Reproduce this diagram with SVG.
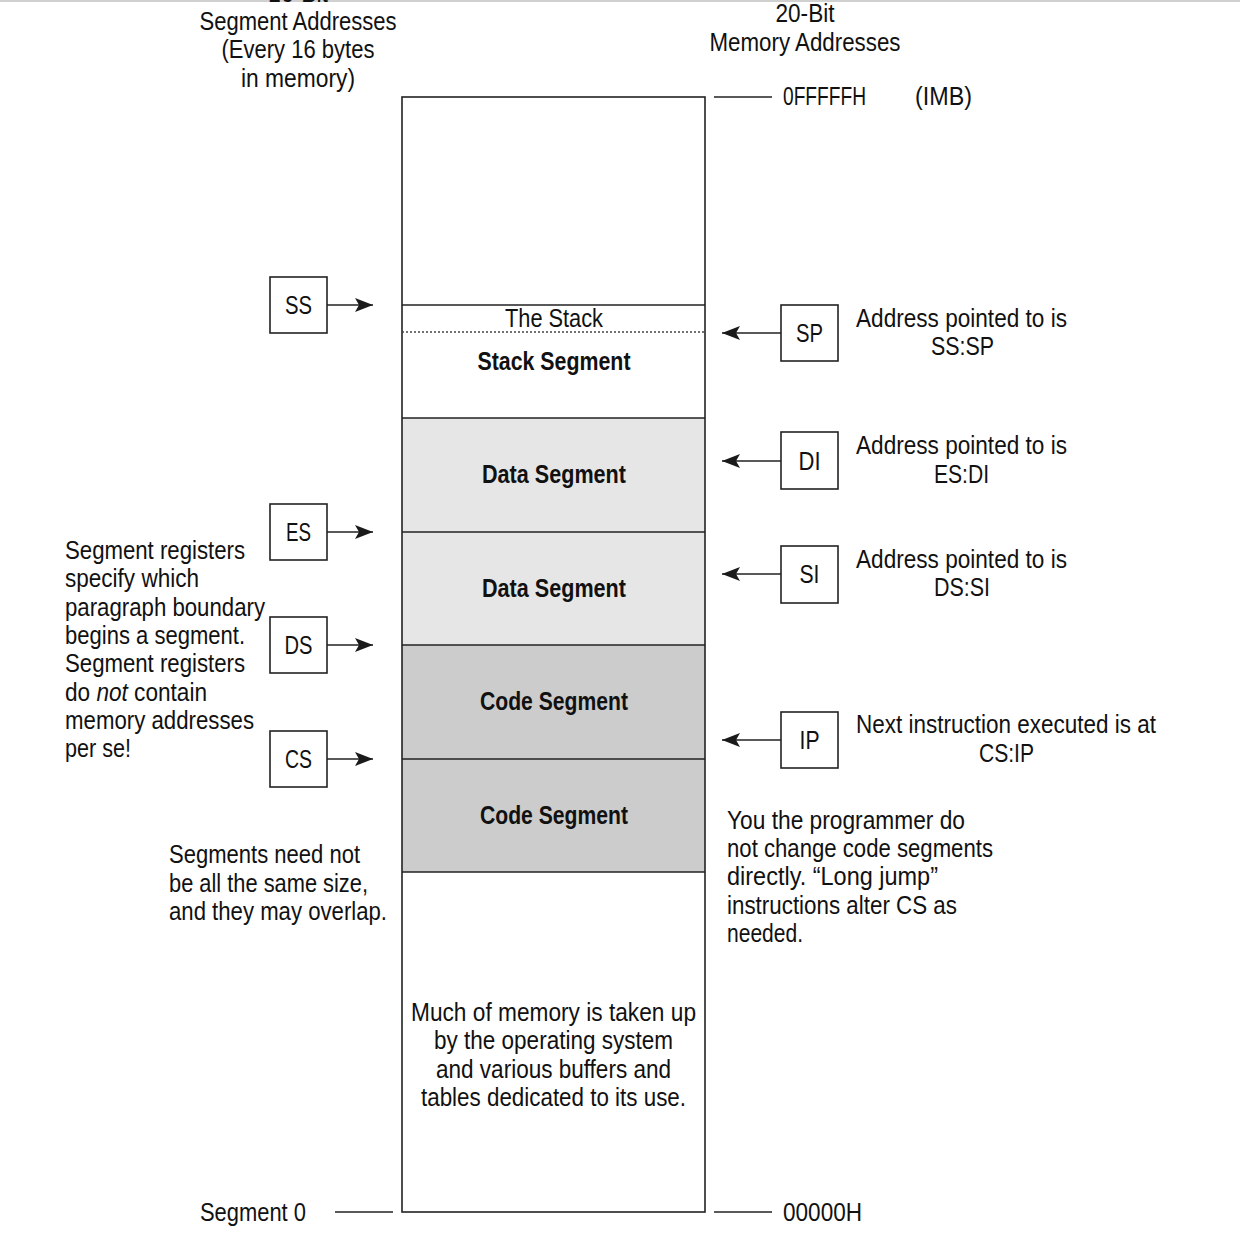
<svg xmlns="http://www.w3.org/2000/svg" width="1240" height="1236" viewBox="0 0 1240 1236">
<defs>
<style>
text{font-family:"Liberation Sans",Arial,sans-serif;font-size:25px;fill:#111}
.c{text-anchor:middle}
.b{font-weight:bold}
.box{fill:#fff;stroke:#222;stroke-width:1.6}
.ln{stroke:#222;stroke-width:1.6;fill:none}
</style>
<marker id="ah" viewBox="0 0 18 14" refX="18" refY="7" markerWidth="18" markerHeight="14" markerUnits="userSpaceOnUse" orient="auto">
<path d="M0,0 L18,7 L0,14 L4,7 Z" fill="#1a1a1a"/>
</marker>
</defs>
<rect x="0" y="0" width="1240" height="1236" fill="#fff"/>
<line x1="0" y1="1" x2="1240" y2="1" stroke="#d0d0d0" stroke-width="2"/>

<g id="headers">
<text class="c" x="298" y="2" textLength="60" lengthAdjust="spacingAndGlyphs">16-Bit</text>
<text class="c" x="298" y="30" textLength="197" lengthAdjust="spacingAndGlyphs">Segment Addresses</text>
<text class="c" x="298" y="58" textLength="153" lengthAdjust="spacingAndGlyphs">(Every 16 bytes</text>
<text class="c" x="298" y="87" textLength="114" lengthAdjust="spacingAndGlyphs">in memory)</text>
<text class="c" x="805" y="22" textLength="59" lengthAdjust="spacingAndGlyphs">20-Bit</text>
<text class="c" x="805" y="51" textLength="191" lengthAdjust="spacingAndGlyphs">Memory Addresses</text>
<text x="783" y="105" textLength="83" lengthAdjust="spacingAndGlyphs">0FFFFFH</text>
<text x="915" y="105" textLength="57" lengthAdjust="spacingAndGlyphs">(IMB)</text>
<text x="783" y="1221" textLength="79" lengthAdjust="spacingAndGlyphs">00000H</text>
<text x="200" y="1221" textLength="106" lengthAdjust="spacingAndGlyphs">Segment 0</text>
</g>

<g id="memory">
<rect x="402" y="418" width="303" height="227" fill="#e6e6e6"/>
<rect x="402" y="645" width="303" height="227" fill="#cccccc"/>
<rect x="402" y="97" width="303" height="1115" class="ln"/>
<line class="ln" x1="402" y1="305" x2="705" y2="305"/>
<line x1="402" y1="332" x2="705" y2="332" stroke="#444" stroke-width="1.5" stroke-dasharray="2,2"/>
<line class="ln" x1="402" y1="418" x2="705" y2="418"/>
<line class="ln" x1="402" y1="532" x2="705" y2="532"/>
<line class="ln" x1="402" y1="645" x2="705" y2="645"/>
<line class="ln" x1="402" y1="759" x2="705" y2="759"/>
<line class="ln" x1="402" y1="872" x2="705" y2="872"/>
<text class="c" x="554" y="327" textLength="98" lengthAdjust="spacingAndGlyphs">The Stack</text>
<text class="c b" x="554" y="370" textLength="153" lengthAdjust="spacingAndGlyphs">Stack Segment</text>
<text class="c b" x="554" y="483" textLength="144" lengthAdjust="spacingAndGlyphs">Data Segment</text>
<text class="c b" x="554" y="597" textLength="144" lengthAdjust="spacingAndGlyphs">Data Segment</text>
<text class="c b" x="554" y="710" textLength="148" lengthAdjust="spacingAndGlyphs">Code Segment</text>
<text class="c b" x="554" y="824" textLength="148" lengthAdjust="spacingAndGlyphs">Code Segment</text>
<text class="c" x="553.5" y="1021" textLength="285" lengthAdjust="spacingAndGlyphs">Much of memory is taken up</text>
<text class="c" x="553.5" y="1049" textLength="239" lengthAdjust="spacingAndGlyphs">by the operating system</text>
<text class="c" x="553.5" y="1078" textLength="235" lengthAdjust="spacingAndGlyphs">and various buffers and</text>
<text class="c" x="553.5" y="1106" textLength="265" lengthAdjust="spacingAndGlyphs">tables dedicated to its use.</text>
</g>

<g id="reg-SS"><rect class="box" x="270" y="277" width="57" height="56"/><text class="c" x="298.5" y="314" textLength="27" lengthAdjust="spacingAndGlyphs">SS</text></g>
<g id="reg-ES"><rect class="box" x="270" y="504" width="57" height="56"/><text class="c" x="298.5" y="541" textLength="25" lengthAdjust="spacingAndGlyphs">ES</text></g>
<g id="reg-DS"><rect class="box" x="270" y="617" width="57" height="56"/><text class="c" x="298.5" y="654" textLength="28" lengthAdjust="spacingAndGlyphs">DS</text></g>
<g id="reg-CS"><rect class="box" x="270" y="731" width="57" height="56"/><text class="c" x="298.5" y="768" textLength="27" lengthAdjust="spacingAndGlyphs">CS</text></g>
<g id="reg-SP"><rect class="box" x="781" y="305" width="57" height="56"/><text class="c" x="809.5" y="342" textLength="27" lengthAdjust="spacingAndGlyphs">SP</text></g>
<g id="reg-DI"><rect class="box" x="781" y="432" width="57" height="57"/><text class="c" x="809.5" y="470" textLength="22" lengthAdjust="spacingAndGlyphs">DI</text></g>
<g id="reg-SI"><rect class="box" x="781" y="546" width="57" height="57"/><text class="c" x="809.5" y="583" textLength="20" lengthAdjust="spacingAndGlyphs">SI</text></g>
<g id="reg-IP"><rect class="box" x="781" y="712" width="57" height="56"/><text class="c" x="809.5" y="749" textLength="20" lengthAdjust="spacingAndGlyphs">IP</text></g>

<g id="connectors">
<line class="ln" x1="327" y1="305" x2="373" y2="305" marker-end="url(#ah)"/>
<line class="ln" x1="327" y1="532" x2="373" y2="532" marker-end="url(#ah)"/>
<line class="ln" x1="327" y1="645" x2="373" y2="645" marker-end="url(#ah)"/>
<line class="ln" x1="327" y1="759" x2="373" y2="759" marker-end="url(#ah)"/>
<line class="ln" x1="781" y1="333" x2="722" y2="333" marker-end="url(#ah)"/>
<line class="ln" x1="781" y1="461" x2="722" y2="461" marker-end="url(#ah)"/>
<line class="ln" x1="781" y1="574" x2="722" y2="574" marker-end="url(#ah)"/>
<line class="ln" x1="781" y1="740" x2="722" y2="740" marker-end="url(#ah)"/>
<line class="ln" x1="714" y1="97" x2="772" y2="97"/>
<line class="ln" x1="714" y1="1212" x2="772" y2="1212"/>
<line class="ln" x1="335" y1="1212" x2="393" y2="1212"/>
</g>

<g id="notes">
<text x="856" y="327" textLength="211" lengthAdjust="spacingAndGlyphs">Address pointed to is</text>
<text class="c" x="962.5" y="355" textLength="63" lengthAdjust="spacingAndGlyphs">SS:SP</text>
<text x="856" y="454" textLength="211" lengthAdjust="spacingAndGlyphs">Address pointed to is</text>
<text class="c" x="961.5" y="483" textLength="55" lengthAdjust="spacingAndGlyphs">ES:DI</text>
<text x="856" y="568" textLength="211" lengthAdjust="spacingAndGlyphs">Address pointed to is</text>
<text class="c" x="962" y="596" textLength="56" lengthAdjust="spacingAndGlyphs">DS:SI</text>
<text x="856" y="733" textLength="300" lengthAdjust="spacingAndGlyphs">Next instruction executed is at</text>
<text class="c" x="1006.5" y="762" textLength="55" lengthAdjust="spacingAndGlyphs">CS:IP</text>
<text x="727" y="829" textLength="238" lengthAdjust="spacingAndGlyphs">You the programmer do</text>
<text x="727" y="857" textLength="266" lengthAdjust="spacingAndGlyphs">not change code segments</text>
<text x="727" y="885" textLength="211" lengthAdjust="spacingAndGlyphs">directly. “Long jump”</text>
<text x="727" y="914" textLength="230" lengthAdjust="spacingAndGlyphs">instructions alter CS as</text>
<text x="727" y="942" textLength="76" lengthAdjust="spacingAndGlyphs">needed.</text>
<text x="65" y="559" textLength="180" lengthAdjust="spacingAndGlyphs">Segment registers</text>
<text x="65" y="587" textLength="134" lengthAdjust="spacingAndGlyphs">specify which</text>
<text x="65" y="616" textLength="200" lengthAdjust="spacingAndGlyphs">paragraph boundary</text>
<text x="65" y="644" textLength="180" lengthAdjust="spacingAndGlyphs">begins a segment.</text>
<text x="65" y="672" textLength="180" lengthAdjust="spacingAndGlyphs">Segment registers</text>
<text x="65" y="701" textLength="142" lengthAdjust="spacingAndGlyphs">do <tspan font-style="italic">not</tspan> contain</text>
<text x="65" y="729" textLength="189" lengthAdjust="spacingAndGlyphs">memory addresses</text>
<text x="65" y="757" textLength="66" lengthAdjust="spacingAndGlyphs">per se!</text>
<text x="169" y="863" textLength="191" lengthAdjust="spacingAndGlyphs">Segments need not</text>
<text x="169" y="892" textLength="199" lengthAdjust="spacingAndGlyphs">be all the same size,</text>
<text x="169" y="920" textLength="218" lengthAdjust="spacingAndGlyphs">and they may overlap.</text>
</g>
</svg>
